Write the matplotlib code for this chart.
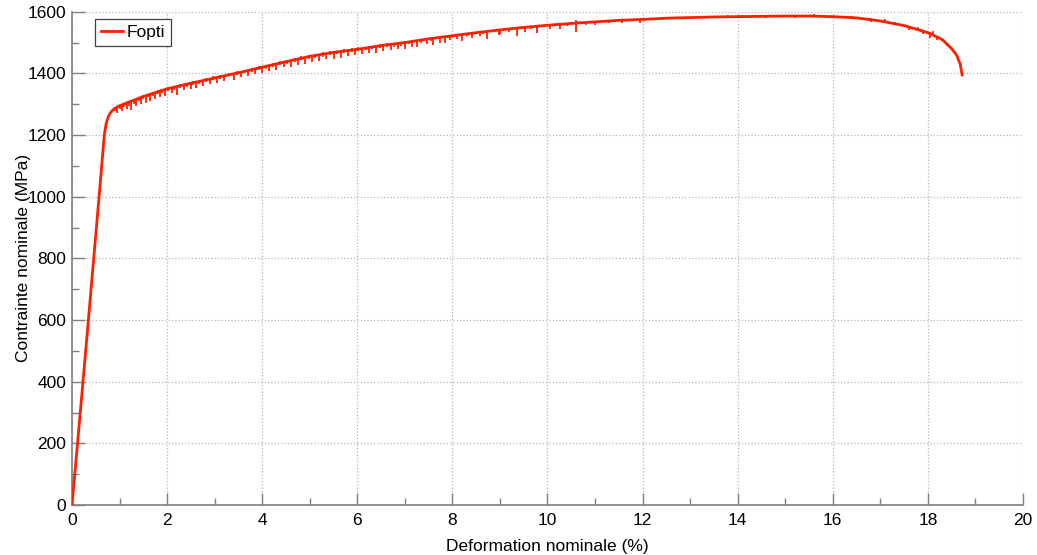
import matplotlib
matplotlib.use("Agg")
import matplotlib.pyplot as plt
from matplotlib.ticker import MultipleLocator

# base stress-strain curve (strain %, stress MPa)
strain = [0.0, 0.1, 0.3, 0.57, 0.68, 0.72, 0.76, 0.8, 0.85, 0.9, 1.0, 1.5, 2.0, 2.5,
          3.0, 3.5, 4.0, 4.5, 5.0, 5.5, 6.0, 6.5, 7.0, 7.5, 8.0, 8.5, 9.0, 9.5,
          10.0, 10.5, 11.0, 11.5, 12.0, 12.5, 13.0, 13.5, 14.0, 14.5, 15.0, 15.5,
          16.0, 16.5, 17.0, 17.5, 18.0, 18.3, 18.5, 18.6, 18.68, 18.72]
stress = [0, 170, 520, 1000, 1200, 1238, 1258, 1270, 1280, 1286, 1295, 1325, 1350, 1368,
          1385, 1402, 1420, 1438, 1455, 1468, 1478, 1490, 1500, 1512, 1522, 1532, 1541, 1549,
          1556, 1562, 1567, 1572, 1575, 1579, 1581, 1583, 1584, 1585, 1586, 1586,
          1584, 1580, 1570, 1555, 1532, 1510, 1480, 1460, 1430, 1395]

# measurement spikes (strain %, top MPa, bottom MPa)
spike_x = [0.95, 1.05, 1.15, 1.25, 1.35, 1.45, 1.55, 1.65, 1.75, 1.85, 1.95, 2.1, 2.2,
           2.35, 2.5, 2.6, 2.75, 2.9, 3.05, 3.2, 3.4, 3.55, 3.7, 3.85, 4.0, 4.15, 4.3,
           4.45, 4.6, 4.75, 4.9, 5.05, 5.2, 5.35, 5.5, 5.65, 5.8, 5.95, 6.1, 6.25, 6.4,
           6.55, 6.7, 6.85, 7.0, 7.15, 7.25, 7.46, 7.6, 7.74, 7.84, 7.95, 8.09, 8.2,
           8.41, 8.58, 8.72, 8.97, 9.0, 9.35, 9.53, 9.77, 10.05, 10.26, 10.59, 11.0,
           11.56, 11.95, 12.4, 12.9, 13.3, 14.1, 14.6, 15.2, 15.6, 16.1, 16.8, 17.3,
           17.6, 17.9, 18.05, 18.2, 18.4]
spike_top = [1292, 1298, 1303, 1308, 1314, 1320, 1327, 1333, 1338, 1343, 1348, 1353, 1357,
             1362, 1368, 1371, 1376, 1382, 1387, 1392, 1399, 1404, 1409, 1415, 1420, 1425, 1431,
             1436, 1441, 1447, 1452, 1456, 1460, 1464, 1468, 1471, 1474, 1477, 1480, 1484, 1488,
             1491, 1494, 1497, 1500, 1504, 1506, 1511, 1514, 1518, 1520, 1523, 1526, 1528,
             1532, 1535, 1537, 1541, 1541, 1547, 1550, 1553, 1557, 1559, 1572, 1567,
             1572, 1576, 1580, 1584, 1586, 1588, 1589, 1590, 1592, 1587, 1580, 1568,
             1555, 1540, 1533, 1522, 1500]
spike_bottom = [1270, 1278, 1285, 1280, 1295, 1300, 1305, 1310, 1318, 1322, 1325, 1335, 1330,
                1345, 1348, 1352, 1360, 1365, 1368, 1375, 1380, 1388, 1392, 1398, 1400, 1408, 1412,
                1420, 1422, 1428, 1432, 1438, 1440, 1445, 1448, 1450, 1455, 1458, 1462, 1465, 1466,
                1472, 1475, 1478, 1480, 1486, 1484, 1495, 1492, 1500, 1498, 1508, 1510, 1505,
                1515, 1520, 1512, 1525, 1528, 1522, 1535, 1530, 1545, 1543, 1535, 1558,
                1562, 1565, 1572, 1575, 1578, 1578, 1580, 1580, 1582, 1578, 1568, 1556,
                1542, 1528, 1515, 1508, 1488]

# smaller jitter between the large spikes
jitter_x = [0.9, 1.0, 1.1, 1.2, 1.3, 1.4, 1.5, 1.6, 1.7, 1.8, 1.9, 2.02, 2.15, 2.28,
            2.42, 2.55, 2.68, 2.82, 2.97, 3.12, 3.3, 3.48, 3.62, 3.78, 3.93, 4.08,
            4.22, 4.38, 4.52, 4.68, 4.82, 4.98, 5.12, 5.28, 5.42, 5.58, 5.72, 5.88,
            6.02, 6.18, 6.32, 6.48, 6.62, 6.78, 6.92, 7.08, 7.35, 7.55, 7.9, 8.3,
            8.65, 9.2, 9.65, 10.4, 10.8, 11.3, 12.2, 13.8, 15.0, 16.4, 17.1, 17.8,
            18.1, 18.3]
jitter_top = [1292, 1297, 1303, 1309, 1315, 1321, 1329, 1334, 1340, 1345, 1350, 1355, 1359,
              1364, 1370, 1374, 1379, 1384, 1390, 1395, 1402, 1408, 1412, 1418, 1424, 1428,
              1433, 1439, 1444, 1450, 1455, 1460, 1463, 1468, 1472, 1474, 1478, 1481,
              1484, 1487, 1490, 1494, 1497, 1500, 1503, 1506, 1512, 1516, 1525, 1532,
              1538, 1548, 1554, 1564, 1568, 1574, 1580, 1588, 1590, 1585, 1577, 1550,
              1536, 1516]
jitter_bottom = [1278, 1286, 1292, 1295, 1302, 1310, 1316, 1322, 1326, 1333, 1336, 1342, 1347,
                 1352, 1357, 1362, 1366, 1372, 1378, 1383, 1390, 1394, 1400, 1405, 1410, 1415,
                 1420, 1426, 1430, 1436, 1442, 1446, 1450, 1454, 1458, 1462, 1465, 1468,
                 1471, 1475, 1478, 1481, 1484, 1487, 1490, 1494, 1500, 1504, 1514, 1522,
                 1528, 1535, 1544, 1553, 1558, 1564, 1572, 1580, 1582, 1576, 1568, 1540,
                 1524, 1506]

x_ticks = [0, 2, 4, 6, 8, 10, 12, 14, 16, 18, 20]
y_ticks = [0, 200, 400, 600, 800, 1000, 1200, 1400, 1600]

plt.rcParams["font.family"] = ["Liberation Sans", "DejaVu Sans"]
red = "#ff1e00"

fig = plt.figure(figsize=(10.37, 5.55), dpi=100)
ax = fig.add_axes([0.0694, 0.0901, 0.9171, 0.8888])

ax.plot(strain, stress, color=red, lw=2.0, label="Fopti", zorder=3)
ax.vlines(spike_x, spike_bottom, spike_top, color=red, lw=1.3, zorder=3)
ax.vlines(jitter_x, jitter_bottom, jitter_top, color=red, lw=1.2, zorder=3)

ax.set_xlim(0, 20)
ax.set_ylim(0, 1600)
ax.set_xticks(x_ticks)
ax.set_yticks(y_ticks)
ax.xaxis.set_minor_locator(MultipleLocator(1))
ax.yaxis.set_minor_locator(MultipleLocator(100))
ax.tick_params(which="major", direction="in", length=9, width=1, color="#808080",
               labelsize=12.5, pad=6)
ax.tick_params(which="minor", direction="in", length=5, width=1, color="#808080")
ax.tick_params(axis="y", pad=4)

ax.grid(True, which="major", color="#b4b4b4", linestyle=":", linewidth=0.9)
for side in ("top", "right"):
    ax.spines[side].set_visible(False)
for side in ("left", "bottom"):
    ax.spines[side].set_color("#808080")
    ax.spines[side].set_linewidth(1.2)

ax.set_xlabel("Deformation nominale (%)", fontsize=12.5, labelpad=8)
ax.set_ylabel("Contrainte nominale (MPa)", fontsize=12.5, labelpad=-2)

leg = ax.legend(loc="upper left", bbox_to_anchor=(0.024, 0.985), fontsize=12.5,
                fancybox=False, handlelength=1.3, handletextpad=0.2,
                borderpad=0.35, borderaxespad=0.0)
leg.get_frame().set_edgecolor("#404040")
leg.get_frame().set_linewidth(0.9)
leg.get_frame().set_alpha(1)

fig.savefig("out.png", dpi=100)
